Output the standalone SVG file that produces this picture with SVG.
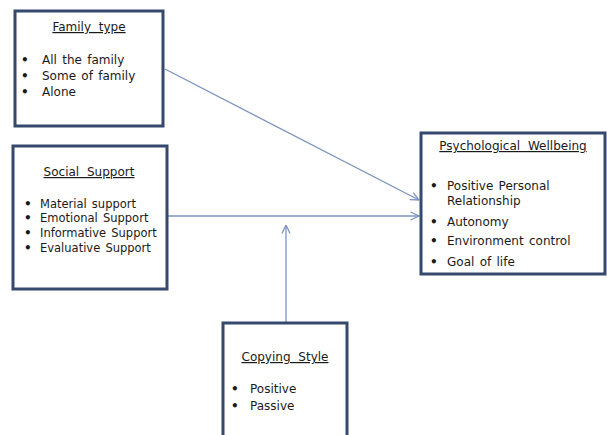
<svg xmlns="http://www.w3.org/2000/svg" width="607" height="435" viewBox="0 0 607 435">
<defs>
<style>
.box{fill:#ffffff;stroke:#34496d;stroke-width:3}
.t{font-family:"DejaVu Sans","Open Sans",sans-serif;font-size:12px;fill:#1a1a1a;word-spacing:1.5px}
.s{font-size:11.5px}
.h{text-decoration:underline;text-anchor:middle;word-spacing:4px}
.b{font-size:12px;font-weight:bold}
.c{fill:none;stroke:#7d94bf;stroke-width:1.3}
</style>
<marker id="ah" viewBox="0 0 10 10" refX="9.5" refY="5" markerWidth="10" markerHeight="10" markerUnits="userSpaceOnUse" orient="auto">
<path d="M1,1 L9.5,5 L1,9" fill="none" stroke="#7d94bf" stroke-width="1.3"/>
</marker>
</defs>
<rect width="607" height="435" fill="#ffffff"/>
<g id="connectors">
<line class="c" x1="165" y1="69" x2="419" y2="200" marker-end="url(#ah)"/>
<line class="c" x1="167" y1="216" x2="419" y2="216" marker-end="url(#ah)"/>
<line class="c" x1="286" y1="322" x2="286" y2="225" marker-end="url(#ah)"/>
</g>
<g id="family">
<rect class="box" x="15" y="11" width="148" height="115"/>
<text class="t h" x="89" y="31">Family type</text>
<text class="t b" x="21" y="64">•</text><text class="t" x="42" y="64">All the family</text>
<text class="t b" x="21" y="80">•</text><text class="t" x="42" y="80">Some of family</text>
<text class="t b" x="21" y="96">•</text><text class="t" x="42" y="96">Alone</text>
</g>
<g id="social">
<rect class="box" x="13" y="146" width="154" height="143"/>
<text class="t h" x="89" y="176">Social Support</text>
<text class="t b" x="24" y="208">•</text><text class="t s" x="40" y="208">Material support</text>
<text class="t b" x="24" y="222">•</text><text class="t s" x="40" y="222">Emotional Support</text>
<text class="t b" x="24" y="237">•</text><text class="t s" x="40" y="237">Informative Support</text>
<text class="t b" x="24" y="252">•</text><text class="t s" x="40" y="252">Evaluative Support</text>
</g>
<g id="psych">
<rect class="box" x="421" y="133" width="184" height="141"/>
<text class="t h" x="513" y="150">Psychological Wellbeing</text>
<text class="t b" x="430" y="190">•</text><text class="t" x="447" y="190">Positive Personal</text>
<text class="t" x="447" y="205">Relationship</text>
<text class="t b" x="430" y="226">•</text><text class="t" x="447" y="226">Autonomy</text>
<text class="t b" x="430" y="245">•</text><text class="t" x="447" y="245">Environment control</text>
<text class="t b" x="430" y="266">•</text><text class="t" x="447" y="266">Goal of life</text>
</g>
<g id="coping">
<rect class="box" x="223" y="323" width="124" height="120"/>
<text class="t h" x="285" y="361">Copying Style</text>
<text class="t b" x="231" y="393">•</text><text class="t" x="250" y="393">Positive</text>
<text class="t b" x="231" y="410">•</text><text class="t" x="250" y="410">Passive</text>
</g>
</svg>
